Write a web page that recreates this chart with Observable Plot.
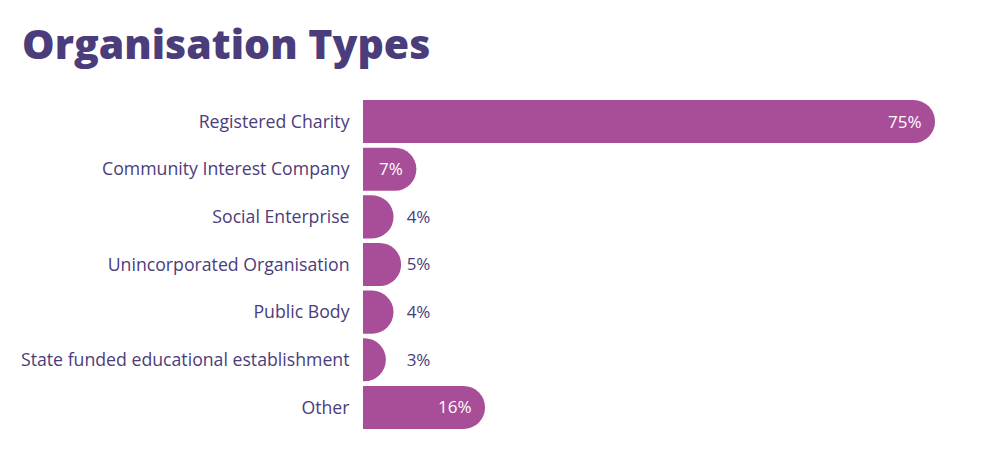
<!DOCTYPE html>
<html>
<head>
<meta charset="utf-8">
<script src="https://cdn.jsdelivr.net/npm/d3@7"></script>
<script src="https://cdn.jsdelivr.net/npm/@observablehq/plot@0.6"></script>
<style>
  html, body { margin: 0; padding: 0; background: #fff; width: 985px; height: 455px; overflow: hidden; }
  #title { height: 80px; box-sizing: border-box; padding: 13px 0 0 22px; margin: 0;
           font-family: "Open Sans", sans-serif; font-weight: 800; font-size: 41px; line-height: 60px; color: #4b3c7b; }
  #chart svg { display: block; }
</style>
</head>
<body>
<div id="title">Organisation Types</div>
<div id="chart"></div>
<script>
const categories = [
  "Registered Charity",
  "Community Interest Company",
  "Social Enterprise",
  "Unincorporated Organisation",
  "Public Body",
  "State funded educational establishment",
  "Other"
];
const values = [75, 7, 4, 5, 4, 3, 16];

const data = categories.map((c, i) => ({category: c, value: values[i]}));
const insideMin = 7;
const outsideLabelFloor = 5;

const barColor = "#a84d97";
const textColor = "#4b3c7b";

const chart = Plot.plot({
  width: 985,
  height: 375,
  marginTop: 20,
  marginBottom: 26,
  marginLeft: 363,
  marginRight: 0,
  style: {fontFamily: "'Open Sans', sans-serif", fontSize: "17.7px", color: textColor, background: "#fff"},
  x: {domain: [0, 81.55], axis: null},
  y: {domain: categories, paddingInner: 0.095, paddingOuter: 0, round: false, label: null, tickSize: 0, tickPadding: 14},
  marks: [
    Plot.rectX(data, {
      y: "category",
      x1: d => -d.value,
      x2: d => d.value,
      fill: barColor,
      rx: 21.5,
      ry: 21.5,
      clip: true
    }),
    Plot.text(data.filter(d => d.value >= insideMin), {
      y: "category",
      x: "value",
      text: d => d.value + "%",
      textAnchor: "end",
      dx: -14,
      fill: "#fff",
      fontSize: 17
    }),
    Plot.text(data.filter(d => d.value < insideMin), {
      y: "category",
      x: d => Math.max(d.value, outsideLabelFloor),
      text: d => d.value + "%",
      textAnchor: "start",
      dx: 5,
      fill: textColor,
      fontSize: 17
    }),
    Plot.axisY({tickSize: 0, tickPadding: 14, fill: textColor, fontSize: 17.7, label: null})
  ]
});
document.getElementById("chart").appendChild(chart);
</script>
</body>
</html>
